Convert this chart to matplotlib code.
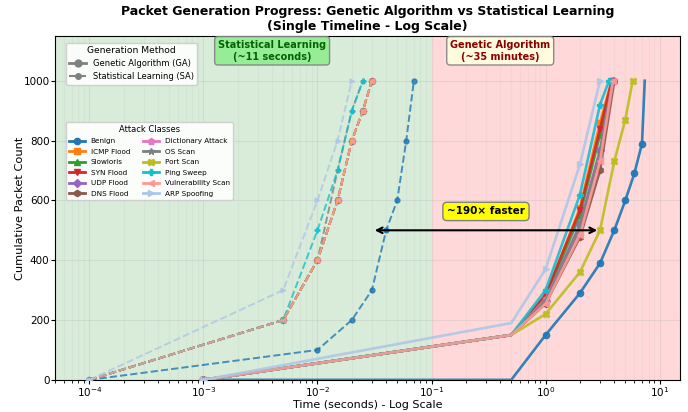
import matplotlib
matplotlib.use("Agg")
import matplotlib.pyplot as plt
from matplotlib.lines import Line2D

classes = ["Benign", "ICMP Flood", "Slowloris", "SYN Flood", "UDP Flood", "DNS Flood",
           "Dictionary Attack", "OS Scan", "Port Scan", "Ping Sweep", "Vulnerability Scan", "ARP Spoofing"]
colors = ["#1f77b4", "#ff7f0e", "#2ca02c", "#d62728", "#9467bd", "#8c564b",
          "#e377c2", "#7f7f7f", "#bcbd22", "#17becf", "#ff9896", "#aec7e8"]
markers = ["o", "s", "^", "v", "D", "h", "p", "*", "X", "P", "<", ">"]

# Statistical Learning (SA) timelines: (time s, cumulative packets)
sa_benign_t = [1e-4, 0.01, 0.02, 0.03, 0.04, 0.05, 0.06, 0.07]
sa_benign_n = [0, 100, 200, 300, 500, 600, 800, 1000]
sa_common_t = [1e-4, 0.005, 0.01, 0.015, 0.02, 0.025, 0.03]
sa_common_n = [0, 200, 400, 600, 800, 900, 1000]
sa_os_t = [1e-4, 0.005, 0.01, 0.015, 0.02, 0.025]
sa_os_n = [0, 200, 400, 700, 900, 1000]
sa_ping_t = [1e-4, 0.005, 0.01, 0.015, 0.02, 0.025]
sa_ping_n = [0, 200, 500, 700, 900, 1000]
sa_arp_t = [1e-4, 0.005, 0.01, 0.015, 0.02]
sa_arp_n = [0, 300, 600, 800, 1000]

# Genetic Algorithm (GA) timelines
ga_benign_t = [1e-3, 0.5, 1, 2, 3, 4, 5, 6, 7, 7.4]
ga_benign_n = [0, 0, 150, 290, 390, 500, 600, 690, 790, 1000]
ga_icmp_t = [1e-3, 0.5, 1, 2, 3, 3.8]
ga_icmp_n = [0, 150, 280, 575, 860, 1000]
ga_slow_t = [1e-3, 0.5, 1, 2, 3, 3.9]
ga_slow_n = [0, 150, 275, 550, 820, 1000]
ga_syn_t = [1e-3, 0.5, 1, 2, 3, 3.8]
ga_syn_n = [0, 150, 285, 567, 840, 1000]
ga_udp_t = [1e-3, 0.5, 1, 2, 3, 3.9]
ga_udp_n = [0, 150, 265, 520, 770, 1000]
ga_dns_t = [1e-3, 0.5, 1, 2, 3, 4.0]
ga_dns_n = [0, 150, 255, 477, 700, 1000]
ga_dict_t = [1e-3, 0.5, 1, 2, 3, 3.9]
ga_dict_n = [0, 150, 270, 500, 750, 1000]
ga_os_t = [1e-3, 0.5, 1, 2, 3, 3.9]
ga_os_n = [0, 150, 265, 510, 760, 1000]
ga_port_t = [1e-3, 0.5, 1, 2, 3, 4, 5, 5.8]
ga_port_n = [0, 150, 220, 360, 500, 730, 870, 1000]
ga_ping_t = [1e-3, 0.5, 1, 2, 3, 3.6]
ga_ping_n = [0, 150, 300, 619, 920, 1000]
ga_vuln_t = [1e-3, 0.5, 1, 2, 3, 3.9]
ga_vuln_n = [0, 150, 255, 484, 730, 1000]
ga_arp_t = [1e-3, 0.5, 1, 2, 3]
ga_arp_n = [0, 190, 370, 720, 1000]

sa_data = [(sa_benign_t, sa_benign_n)] + [(sa_common_t, sa_common_n)] * 6 + \
          [(sa_os_t, sa_os_n), (sa_common_t, sa_common_n), (sa_ping_t, sa_ping_n),
           (sa_common_t, sa_common_n), (sa_arp_t, sa_arp_n)]
ga_data = [(ga_benign_t, ga_benign_n), (ga_icmp_t, ga_icmp_n), (ga_slow_t, ga_slow_n),
           (ga_syn_t, ga_syn_n), (ga_udp_t, ga_udp_n), (ga_dns_t, ga_dns_n),
           (ga_dict_t, ga_dict_n), (ga_os_t, ga_os_n), (ga_port_t, ga_port_n),
           (ga_ping_t, ga_ping_n), (ga_vuln_t, ga_vuln_n), (ga_arp_t, ga_arp_n)]

fig = plt.figure(figsize=(6.88, 4.12), dpi=100)
ax = fig.add_axes([0.080, 0.078, 0.908, 0.835])
ax.set_xscale("log")
ax.set_xlim(5e-5, 15)
ax.set_ylim(0, 1150)

ax.axvspan(5e-5, 0.1, color="green", alpha=0.15, lw=0, zorder=0)
ax.axvspan(0.1, 15, color="red", alpha=0.15, lw=0, zorder=0)

for i, name in enumerate(classes):
    t, n = ga_data[i]
    if i == 0:
        me = [0] + list(range(2, len(t) - 1))
    else:
        me = [0] + list(range(2, len(t)))
    ax.plot(t, n, color=colors[i], marker=markers[i], lw=1.9, ms=4.5,
            markevery=me, alpha=0.9, zorder=3)
for i, name in enumerate(classes):
    t, n = sa_data[i]
    ax.plot(t, n, color=colors[i], marker=markers[i], lw=1.4, ls="--", ms=3.5,
            alpha=0.8, zorder=3)

ax.grid(True, which="major", alpha=0.25)
ax.grid(True, which="minor", alpha=0.12)
ax.tick_params(labelsize=7.5, pad=1)
ax.tick_params(which="major", length=3)
ax.set_xlabel("Time (seconds) - Log Scale", fontsize=8.0, va="top")
ax.set_ylabel("Cumulative Packet Count", fontsize=8.2, va="center")
ax.xaxis.set_label_coords(0.5, -0.058)
ax.yaxis.set_label_coords(-0.056, 0.5)
ax.set_title("Packet Generation Progress: Genetic Algorithm vs Statistical Learning\n(Single Timeline - Log Scale)",
             fontsize=9, fontweight="bold", pad=4)

ax.text(0.004, 1100, "Statistical Learning\n(~11 seconds)", ha="center", va="center",
        fontsize=7, fontweight="bold", color="darkgreen",
        bbox=dict(boxstyle="round,pad=0.35", facecolor="lightgreen", edgecolor="gray", alpha=0.9))
ax.text(0.4, 1100, "Genetic Algorithm\n(~35 minutes)", ha="center", va="center",
        fontsize=7, fontweight="bold", color="darkred",
        bbox=dict(boxstyle="round,pad=0.35", facecolor="lightyellow", edgecolor="gray", alpha=0.9))

ax.annotate("", xy=(0.03, 500), xytext=(3, 500),
            arrowprops=dict(arrowstyle="<->", color="black", lw=1.5), zorder=5)
ax.text(0.3, 563, "~190× faster", ha="center", va="center", fontsize=7.5, fontweight="bold",
        bbox=dict(boxstyle="round,pad=0.4", facecolor="yellow", edgecolor="gray"), zorder=6)

method_handles = [Line2D([0], [0], color="gray", lw=2, marker="o", ms=5),
                  Line2D([0], [0], color="gray", lw=1.4, ls="--", marker="o", ms=4)]
leg1 = ax.legend(method_handles, ["Genetic Algorithm (GA)", "Statistical Learning (SA)"],
                 title="Generation Method", loc="upper left", bbox_to_anchor=(0.0176, 0.98),
                 borderaxespad=0, fontsize=6.0, title_fontsize=6.6, framealpha=0.9)
ax.add_artist(leg1)

class_handles = [Line2D([0], [0], color=colors[i], marker=markers[i], lw=2, ms=4.5)
                 for i in range(len(classes))]
ax.legend(class_handles, classes, title="Attack Classes", loc="upper left",
          bbox_to_anchor=(0.0176, 0.75), borderaxespad=0, ncol=2, fontsize=5.2,
          title_fontsize=6.0, framealpha=0.9, columnspacing=1.8, handlelength=2.2,
          labelspacing=0.62)

fig.savefig("out.png", dpi=100)
